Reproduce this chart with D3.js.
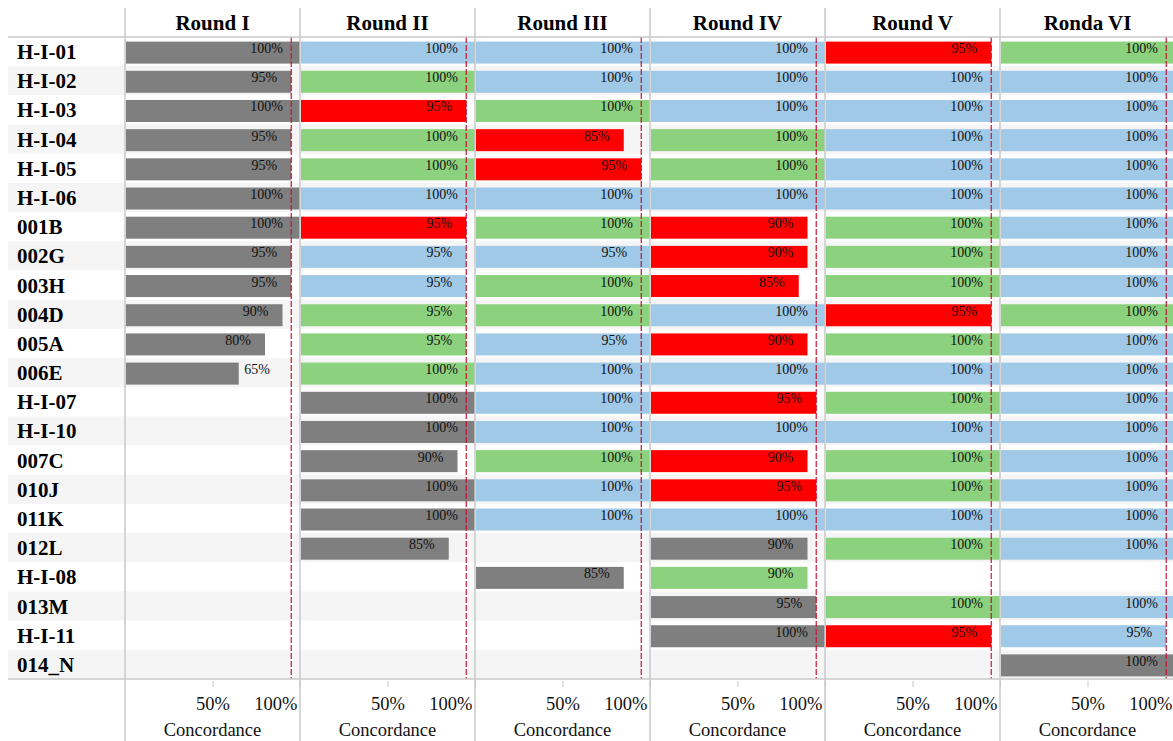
<!DOCTYPE html>
<html>
<head>
<meta charset="utf-8">
<script src="https://cdn.jsdelivr.net/npm/d3@7"></script>
<style>
  body { margin: 0; background: #fff; }
  svg { display: block; font-family: "Liberation Serif", "Times New Roman", serif; }
</style>
</head>
<body>
<div id="chart"></div>
<script>
// Chart size
const width = 1173;
const height = 741;

// Samples (rows) and rounds (columns)
const samples = ["H-I-01", "H-I-02", "H-I-03", "H-I-04", "H-I-05", "H-I-06", "001B", "002G", "003H",
                 "004D", "005A", "006E", "H-I-07", "H-I-10", "007C", "010J", "011K", "012L",
                 "H-I-08", "013M", "H-I-11", "014_N"];
const rounds = ["Round I", "Round II", "Round III", "Round IV", "Round V", "Ronda VI"];

// Concordance (%) per round, same order as samples, null = not in that round
const round1 = [100, 95, 100, 95, 95, 100, 100, 95, 95, 90, 80, 65, null, null, null, null, null, null, null, null, null, null];
const round2 = [100, 100, 95, 100, 100, 100, 95, 95, 95, 95, 95, 100, 100, 100, 90, 100, 100, 85, null, null, null, null];
const round3 = [100, 100, 100, 85, 95, 100, 100, 95, 100, 100, 95, 100, 100, 100, 100, 100, 100, null, 85, null, null, null];
const round4 = [100, 100, 100, 100, 100, 100, 90, 90, 85, 100, 90, 100, 95, 100, 90, 95, 100, 90, 90, 95, 100, null];
const round5 = [95, 100, 100, 100, 100, 100, 100, 100, 100, 95, 100, 100, 100, 100, 100, 100, 100, 100, null, 100, 95, null];
const round6 = [100, 100, 100, 100, 100, 100, 100, 100, 100, 100, 100, 100, 100, 100, 100, 100, 100, 100, null, 100, 95, 100];
const roundValues = [round1, round2, round3, round4, round5, round6];

// cells whose bar is drawn full length in the original even though labelled 95%
const fullBarCells = [["Round III", "002G"], ["Round III", "005A"]];

// target line
const targetValue = 95;
const tickValues = [50, 100];

// colours: first time / same / up / down
const colors = {first: "#7f7f7f", same: "#a0c8e7", up: "#8cd17d", down: "#ff0000"};

const labelX = 8;
const panelX0 = 125;
const panelW = 175;
const headerTop = 8;
const rowsTop = 37;
const rowsBottom = 679;
const gridColor = "#c8c8c8";

let svg = d3.select("#chart").append("svg")
            .attr("width", width)
            .attr("height", height);

let y = d3.scaleBand()
          .domain(samples)
          .range([rowsTop, rowsBottom]);

let x = d3.scaleLinear()
          .domain([0, 100])
          .range([0, panelW]);

// Alternate row banding
svg.selectAll("rect.band")
   .data(samples)
   .enter()
   .append("rect")
   .attr("x", labelX)
   .attr("y", d => y(d))
   .attr("width", width - labelX)
   .attr("height", y.bandwidth())
   .attr("fill", (d, i) => i % 2 ? "#f5f5f5" : "#fff");

// Row labels
svg.selectAll("text.row")
   .data(samples)
   .enter()
   .append("text")
   .attr("x", 17)
   .attr("y", d => y(d) + y.bandwidth() / 2 + 7.5)
   .style("font-size", "21px")
   .style("font-weight", "bold")
   .text(d => d);

// One panel per round
rounds.forEach(function(round, ri) {
    const vals = roundValues[ri];
    const prev = ri > 0 ? roundValues[ri - 1] : null;

    const cells = samples.map(function(s, i) {
        let status = "first";
        if (prev && prev[i] != null) {
            status = vals[i] > prev[i] ? "up" : vals[i] < prev[i] ? "down" : "same";
        }
        const full = fullBarCells.some(c => c[0] === round && c[1] === s);
        return {sample: s, value: vals[i], bar: full ? 100 : vals[i], status: status};
    }).filter(d => d.value != null);

    let g = svg.append("g")
               .attr("transform", "translate(" + (panelX0 + ri * panelW) + ",0)");

    // header
    g.append("text")
     .attr("x", panelW / 2)
     .attr("y", 30)
     .attr("text-anchor", "middle")
     .style("font-size", "21px")
     .style("font-weight", "bold")
     .text(round);

    g.selectAll("rect.bar")
     .data(cells)
     .enter()
     .append("rect")
     .attr("x", 1)
     .attr("y", d => y(d.sample) + 4.6)
     .attr("width", d => x(d.bar) - 1)
     .attr("height", 22)
     .attr("fill", d => colors[d.status]);

    // value labels
    g.selectAll("text.val")
     .data(cells)
     .enter()
     .append("text")
     .attr("x", function(d) {
         if (d.value < 70) return x(d.value) + 5.5;
         return x(d.value) - (d.value === 100 ? 17 : 14);
     })
     .attr("y", d => y(d.sample) + 4.6 + 11.5)
     .attr("text-anchor", d => d.value < 70 ? "start" : "end")
     .style("font-size", "14px")
     .style("fill", "#111")
     .text(d => d.value + "%");

    // target line
    g.append("line")
     .attr("x1", x(targetValue))
     .attr("x2", x(targetValue))
     .attr("y1", rowsTop)
     .attr("y2", rowsBottom)
     .style("stroke", "#c4122f")
     .style("stroke-width", 1.3)
     .style("stroke-dasharray", "6,2")
     .style("opacity", 0.9);

    // axis
    let axis = g.append("g")
                .attr("transform", "translate(0," + (rowsBottom + 2) + ")")
                .call(d3.axisBottom(x).tickValues(tickValues).tickSize(6).tickFormat(d => d + "%"));
    axis.select(".domain").remove();
    axis.selectAll("line").style("stroke", gridColor);
    axis.selectAll("text")
        .attr("y", 29)
        .attr("dy", null)
        .style("font-size", "18.5px")
        .style("font-family", "Liberation Serif, Times New Roman, serif")
        .style("fill", "#111")
        .attr("text-anchor", d => d === 100 ? "end" : "middle")
        .attr("x", d => d === 100 ? -3 : 0);

    g.append("text")
     .attr("x", panelW / 2)
     .attr("y", 736)
     .attr("text-anchor", "middle")
     .style("font-size", "18.5px")
     .style("fill", "#111")
     .text("Concordance");
});

// Grid lines
svg.selectAll("line.hgrid")
   .data([rowsTop, rowsBottom])
   .enter()
   .append("line")
   .attr("x1", labelX)
   .attr("x2", width)
   .attr("y1", d => d)
   .attr("y2", d => d)
   .style("stroke", gridColor)
   .style("stroke-width", 1.5);

svg.selectAll("line.vgrid")
   .data(d3.range(rounds.length + 1))
   .enter()
   .append("line")
   .attr("x1", d => panelX0 + d * panelW)
   .attr("x2", d => panelX0 + d * panelW)
   .attr("y1", headerTop)
   .attr("y2", height)
   .style("stroke", gridColor)
   .style("stroke-width", 1.5);
</script>
</body>
</html>
